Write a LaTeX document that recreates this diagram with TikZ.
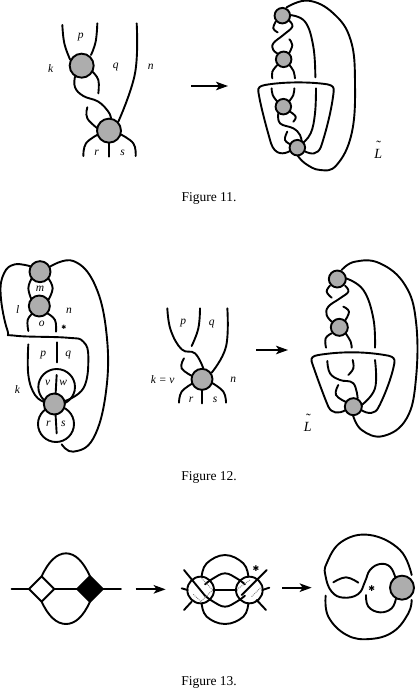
\documentclass[tikz,border=0pt]{standalone}
\usepackage{fontspec}
\setmainfont{Liberation Serif}
\newfontfamily\djv{DejaVu Sans}
\usetikzlibrary{arrows.meta}
\tikzset{
  st/.style={line width=1.9pt,line cap=round,line join=round},
  dsk/.style={circle,draw,line width=1.9pt,fill=black!32,inner sep=0pt,minimum size=#1},
  lab/.style={font=\itshape\fontsize{11.5}{12}\selectfont,inner sep=0pt},
  lbt/.style={font=\itshape\fontsize{14}{16}\selectfont,inner sep=0pt},
  tld/.style={font=\fontsize{14}{16}\selectfont,inner sep=0pt},
  strr/.style={font=\djv\fontsize{#1}{10}\selectfont,inner sep=0pt},
  capt/.style={font=\fontsize{13.5}{15}\selectfont,inner sep=0pt},
  arr/.style={line width=1.9pt,-{Stealth[length=12pt,width=8.5pt,inset=3pt]}},
  zm/.style={x=0.33333pt,y=-0.33333pt},
  sm/.style={smooth,tension=0.7},
  dtt/.style={gray,densely dotted,line width=0.9pt},
}
\newcommand{\crv}[1]{\draw[st] plot[sm] coordinates {#1};}
\begin{document}
\begin{tikzpicture}[x=1pt,y=-1pt]
\useasboundingbox (0,0) rectangle (419,690);
\fill[white] (0,0) rectangle (419,690);
% ---------- Figure 11 left
\begin{scope}[shift={(30,0)},zm]
\crv{(97,75)(103,130)(120,178)}
\crv{(202,70)(197,125)(183,165)}
\crv{(320,70)(315,220)(265,365)}
\crv{(135,230)(135,262)(160,288)(205,305)(235,335)(243,355)}
\crv{(187,215)(205,240)(205,280)}
\crv{(172,322)(172,355)(205,387)}
\crv{(160,468)(168,430)(205,403)}
\draw[st] (238,470)--(238,425);
\crv{(317,468)(310,430)(270,402)}
\node[dsk=24pt] (a1) at (155,197) {};
\node[dsk=24pt] (a2) at (237,392) {};
\node[lab] (lp1) at (152,112) {p};
\node[lab] (lk1) at (62,205) {k};
\node[lab] (lq1) at (257,200) {q};
\node[lab] (ln1) at (362,200) {n};
\node[lab] (lr1) at (200,457) {r};
\node[lab] (ls1) at (278,460) {s};
\end{scope}
\coordinate (ar1s) at (191,86); \coordinate (ar1e) at (228,86);
\draw[arr] (ar1s)--(ar1e);
% ---------- Figure 11 right
\begin{scope}[shift={(240,0)},zm]
\crv{(140,22)(205,2)(280,40)(332,120)(345,250)(335,400)(290,495)(240,510)(195,490)(172,465)}
\crv{(148,45)(195,65)(220,140)(226,232)}
\crv{(228,265)(225,340)(212,400)(185,432)}
\crv{(147,62)(157,80)(130,105)(100,130)(100,150)(115,162)}
\crv{(107,65)(100,85)(113,97)}
\crv{(148,118)(157,135)(147,160)}
\crv{(112,195)(97,215)(97,235)}
\crv{(148,195)(160,212)(165,235)}
\draw[st] (152,452) .. controls (130,465) and (105,465) .. (93,430) .. controls (80,385) and (62,320) .. (55,275) .. controls (53,262) and (60,258) .. (75,255) .. controls (130,245) and (210,245) .. (262,253) .. controls (278,256) and (283,262) .. (281,275) .. controls (275,330) and (258,395) .. (243,440) .. controls (233,465) and (215,465) .. (190,452);
\crv{(95,265)(98,285)(112,305)}
\crv{(163,265)(160,285)(148,303)}
\crv{(115,340)(120,370)(160,385)(180,405)(185,425)}
\crv{(150,335)(167,350)(160,365)}
\crv{(142,395)(135,420)(155,435)}
\node[dsk=15.5pt] (b1) at (127,47) {};
\node[dsk=15.5pt] (b2) at (131,178) {};
\node[dsk=15.5pt] (b3) at (130,320) {};
\node[dsk=15.5pt] (b4) at (172,443) {};
\node[lbt] (lt1) at (415,463) {L};
\node[tld] (ltt1) at (416,438) {˜};
\end{scope}
\node[capt] (c11) at (209,198) {Figure 11.};
% ---------- Figure 12 left
\begin{scope}[shift={(0,225)},zm]
\crv{(95,125)(45,118)(12,145)(2,210)(22,315)(45,332)(200,338)(250,350)(265,400)(250,490)(190,530)}
\crv{(150,125)(220,108)(285,180)(320,330)(318,500)(280,640)(220,680)(185,658)}
\crv{(95,160)(85,190)(95,225)}
\crv{(145,160)(158,190)(145,225)}
\crv{(98,265)(83,285)(85,318)}
\crv{(142,265)(165,285)(168,320)}
\crv{(85,358)(85,450)(105,510)(135,532)}
\draw[st] (170,352)--(170,412);
\draw[st] (170,450)--(165,540)--(170,625);
\draw[st] (170,486) ellipse[x radius=55,y radius=54];
\draw[st] (168,597) ellipse[x radius=54,y radius=54];
\node[dsk=21pt] (d1) at (120,140) {};
\node[dsk=21pt] (d2) at (118,243) {};
\node[dsk=21pt] (d3) at (163,537) {};
\node[lab] (lm2) at (120,192) {m};
\node[lab] (ll2) at (53,255) {l};
\node[lab] (ln2) at (207,257) {n};
\node[lab] (lo2) at (125,298) {o};
\node[strr=6] (lst2) at (192,308) {✱};
\node[lab] (lp2) at (130,390) {p};
\node[lab] (lq2) at (205,390) {q};
\node[lab] (lv2) at (143,475) {v};
\node[lab] (lw2) at (190,475) {w};
\node[lab] (lk2) at (52,495) {k};
\node[lab] (lr2) at (145,597) {r};
\node[lab] (ls2) at (190,597) {s};
\end{scope}
% ---------- Figure 12 middle
\begin{scope}[shift={(140,290)},zm]
\crv{(82,55)(92,120)(125,178)(165,190)(190,235)}
\crv{(180,55)(175,115)(155,168)}
\crv{(262,55)(258,170)(215,248)}
\crv{(132,205)(125,235)(160,260)}
\crv{(117,338)(125,305)(158,280)}
\draw[st] (187,340)--(187,295);
\crv{(258,338)(250,305)(215,278)}
\node[dsk=21pt] (e1) at (186,268) {};
\node[lab] (lp3) at (130,100) {p};
\node[lab] (lq3) at (215,103) {q};
\node[lab] (lkv) at (68,270) {k = v};
\node[lab] (ln3) at (280,268) {n};
\node[lab] (lr3) at (153,328) {r};
\node[lab] (ls3) at (225,330) {s};
\end{scope}
\coordinate (ar2s) at (256,350); \coordinate (ar2e) at (288,350);
\draw[arr] (ar2s)--(ar2e);
% ---------- Figure 12 right
\begin{scope}[shift={(280,255)},zm]
\crv{(185,45)(225,20)(300,25)(375,90)(408,200)(408,370)(380,490)(310,543)(245,525)(218,478)}
\crv{(198,70)(250,105)(280,190)(285,278)}
\crv{(285,315)(285,400)(245,450)}
\crv{(195,92)(205,110)(180,130)(145,155)(140,180)(155,200)}
\crv{(150,92)(140,110)(155,128)}
\crv{(190,155)(207,170)(195,197)}
\crv{(155,235)(137,250)(138,278)}
\crv{(197,235)(212,260)(215,278)}
\draw[st] (197,465) .. controls (175,478) and (155,475) .. (145,455) .. controls (130,420) and (105,350) .. (95,320) .. controls (92,308) and (98,303) .. (115,300) .. controls (190,288) and (260,290) .. (325,302) .. controls (340,305) and (346,312) .. (343,325) .. controls (335,370) and (310,430) .. (295,458) .. controls (285,478) and (265,478) .. (243,465);
\crv{(142,318)(150,355)(180,375)(220,385)(233,430)}
\crv{(218,315)(220,340)(205,360)}
\crv{(175,390)(168,420)(200,442)}
\node[dsk=17pt] (f1) at (172,72) {};
\node[dsk=17pt] (f2) at (178,217) {};
\node[dsk=17pt] (f3) at (220,455) {};
\node[lbt] (lt2) at (83,516) {L};
\node[tld] (ltt2) at (85,491) {˜};
\end{scope}
\node[capt] (c12) at (209,477) {Figure 12.};
% ---------- Figure 13 left
\begin{scope}[shift={(0,530)},zm]
\coordinate (dw) at (125,177);
\coordinate (db) at (270,177);
\draw[st,fill=white] (87,177)--(125,139)--(163,177)--(125,215)--cycle;
\draw[st,fill=black] (232,177)--(270,139)--(308,177)--(270,215)--cycle;
\coordinate (wt) at (125,139); \coordinate (wb) at (125,215);
\coordinate (bt) at (270,139); \coordinate (bb) at (270,215);
\draw[st] (35,177)--(87,177);
\draw[st] (163,177)--(232,177);
\draw[st] (308,177)--(363,177);
\draw[st] (wt) .. controls (145,95) and (170,70) .. (198,70) .. controls (226,70) and (250,95) .. (bt);
\draw[st] (wb) .. controls (145,259) and (170,282) .. (198,282) .. controls (226,282) and (250,259) .. (bb);
\coordinate (ar3s) at (407,178); \coordinate (ar3e) at (497,178);
\draw[arr] (ar3s)--(ar3e);
\end{scope}
% ---------- Figure 13 middle
\begin{scope}[shift={(160,545)},zm]
\draw[st] (122,135) circle[radius=40];
\draw[st] (268,135) circle[radius=40];
\crv{(125,95)(140,55)(195,30)(250,55)(265,95)}
\crv{(125,175)(140,215)(195,237)(250,215)(265,175)}
\crv{(135,118)(160,100)(195,85)(230,100)(255,118)}
\crv{(135,152)(160,170)(195,185)(230,170)(255,152)}
\draw[st] (160,135)--(230,135);
\draw[st] (72,75)--(135,152);
\draw[st] (65,130)--(83,135);
\draw[st] (72,195)--(95,170);
\draw[dtt] (125,100)--(158,135);
\draw[dtt] (100,148)--(125,172);
\draw[dtt] (120,172)--(158,135);
\end{scope}
\begin{scope}[shift={(210,520)},zm]
\draw[st] (170,150)--(95,225);
\draw[st] (178,203)--(157,210);
\draw[st] (168,270)--(140,240);
\draw[dtt] (85,205)--(120,180);
\draw[dtt] (125,230)--(155,200);
\node[strr=8] (ls4) at (138,145) {✱};
% ---------- Figure 13 right
\crv{(605,165)(570,90)(480,45)(395,65)(350,130)(347,170)(365,215)(400,233)(445,222)(465,185)(480,150)(510,132)(540,140)(556,172)}
\crv{(347,227)(355,290)(410,345)(480,357)(550,335)(595,280)(605,240)}
\crv{(468,225)(475,260)(510,277)(545,265)(558,235)}
\crv{(370,187)(408,172)(445,188)}
\node[dsk=24pt] (g1) at (576,203) {};
\node[strr=8] (ls5) at (485,207) {✱};
\coordinate (ar4s) at (217,203); \coordinate (ar4e) at (305,203);
\draw[arr] (ar4s)--(ar4e);
\end{scope}
\node[capt] (c13) at (209,682) {Figure 13.};
\end{tikzpicture}
\end{document}
